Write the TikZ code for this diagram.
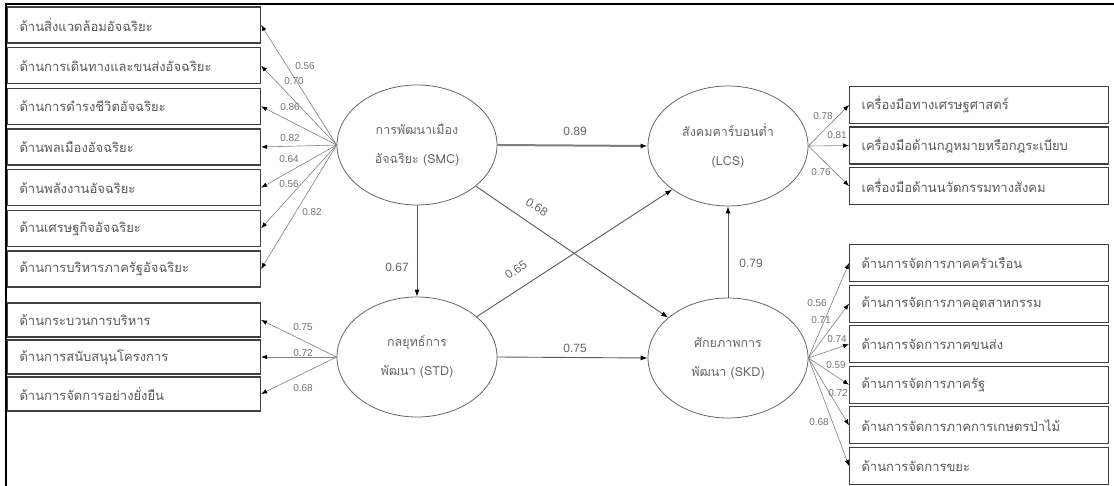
\documentclass[tikz,border=0pt]{standalone}
\usepackage{fontspec}
\setmainfont{Liberation Sans}
\newfontfamily\thaifont[Script=Thai]{Loma}
\usetikzlibrary{shapes.geometric,arrows.meta}
\tikzset{
    indbox/.style={draw=black!75, line width=1.1pt, fill=white, rectangle, anchor=west,
        text width=229pt, inner xsep=12pt, align=left, text=black!65,
        font=\thaifont\fontsize{13}{15}\selectfont},
    latent/.style={draw=black!60, line width=0.8pt, ellipse, minimum width=160pt,
        minimum height=120pt, align=center, text=black!60,
        font=\thaifont\fontsize{12.5}{29}\selectfont},
    link/.style={draw=black!65, line width=0.9pt, -{Latex[length=7pt,width=5pt,color=black]}},
    loadline/.style={draw=black!50, line width=0.6pt, -{Latex[length=6pt,width=4.5pt,color=black]}},
    coef/.style={text=black!60, inner sep=0pt, font=\fontsize{12}{14}\selectfont},
    load/.style={text=black!55, inner sep=0.5pt, font=\fontsize{10}{12}\selectfont}
}
\begin{document}
\begin{tikzpicture}[x=1pt, y=-1pt]
    \useasboundingbox (0,0) rectangle (1114,486);
    % frame
    \draw[line width=1.6pt] (6,486) -- (6,4) -- (1114,4);
    % latent variables
    \node[latent] (smc) at (417,145) {การพัฒนาเมือง\\อัจฉริยะ (SMC)};
    \node[latent] (std) at (417,357) {กลยุทธ์การ\\พัฒนา (STD)};
    \node[latent] (lcs) at (728,146) {สังคมคาร์บอนต่ำ\\(LCS)};
    \node[latent] (skd) at (728,358) {ศักยภาพการ\\พัฒนา (SKD)};
    % indicators of SMC
    \foreach \txt [count=\i] in {ด้านสิ่งแวดล้อมอัจฉริยะ, ด้านการเดินทางและขนส่งอัจฉริยะ,
        ด้านการดำรงชีวิตอัจฉริยะ, ด้านพลเมืองอัจฉริยะ, ด้านพลังงานอัจฉริยะ,
        ด้านเศรษฐกิจอัจฉริยะ, ด้านการบริหารภาครัฐอัจฉริยะ} {
        \node[indbox, minimum height=36pt] (sm\i) at (7,{25+40.67*(\i-1)}) {\txt};
        \draw[loadline] (smc.west) -- (sm\i.east);
    }
    \foreach \val/\x/\y [count=\i] in {0.56/305/66, 0.70/294/81, 0.86/290/107, 0.82/290/138,
        0.64/289/159, 0.56/289/184, 0.82/312/212} {
        \node[load] (smload\i) at (\x,\y) {\val};
    }
    % indicators of STD
    \foreach \txt [count=\i] in {ด้านกระบวนการบริหาร, ด้านการสนับสนุนโครงการ,
        ด้านการจัดการอย่างยั่งยืน} {
        \node[indbox, minimum height=34pt] (st\i) at (7,{320+37*(\i-1)}) {\txt};
        \draw[loadline] (std.west) -- (st\i.east);
    }
    \foreach \val/\y [count=\i] in {0.75/327, 0.72/353, 0.68/388} {
        \node[load] (stload\i) at (303,\y) {\val};
    }
    % indicators of LCS
    \foreach \txt [count=\i] in {เครื่องมือทางเศรษฐศาสตร์, เครื่องมือด้านกฎหมายหรือกฎระเบียบ,
        เครื่องมือด้านนวัตกรรมทางสังคม} {
        \node[indbox, minimum height=37pt, text width=235pt] (lc\i) at (849,{105+40.5*(\i-1)}) {\txt};
        \draw[loadline] (lcs.east) -- (lc\i.west);
    }
    \foreach \val/\x/\y [count=\i] in {0.78/823/116, 0.81/837/135, 0.76/821/172} {
        \node[load] (lcload\i) at (\x,\y) {\val};
    }
    % indicators of SKD
    \foreach \txt [count=\i] in {ด้านการจัดการภาคครัวเรือน, ด้านการจัดการภาคอุตสาหกรรม,
        ด้านการจัดการภาคขนส่ง, ด้านการจัดการภาครัฐ, ด้านการจัดการภาคการเกษตรป่าไม้,
        ด้านการจัดการขยะ} {
        \node[indbox, minimum height=37pt, text width=235pt] (sk\i) at (849,{263+40.6*(\i-1)}) {\txt};
        \draw[loadline] (skd.east) -- (sk\i.west);
    }
    \foreach \val/\x/\y [count=\i] in {0.56/817/303, 0.71/821/320, 0.74/837/339,
        0.59/836/365, 0.72/838/393, 0.68/819/422} {
        \node[load] (skload\i) at (\x,\y) {\val};
    }
    % structural paths
    \draw[link, line width=2pt, draw=black!50] (smc.east) -- (lcs.west);
    \draw[link] (smc.south) -- (std.north);
    \draw[link] (smc.-35) -- (skd.146);
    \draw[link] (std.34) -- (lcs.218);
    \draw[link] (std.east) -- (skd.west);
    \draw[link] (skd.north) -- (lcs.south);
    \node[coef] (c89) at (575,131) {0.89};
    \node[coef] (c67) at (397,267) {0.67};
    \node[coef, rotate=-33] (c68) at (537,207) {0.68};
    \node[coef, rotate=33] (c65) at (516,270) {0.65};
    \node[coef] (c75) at (575,348) {0.75};
    \node[coef] (c79) at (751,263) {0.79};
\end{tikzpicture}
\end{document}
